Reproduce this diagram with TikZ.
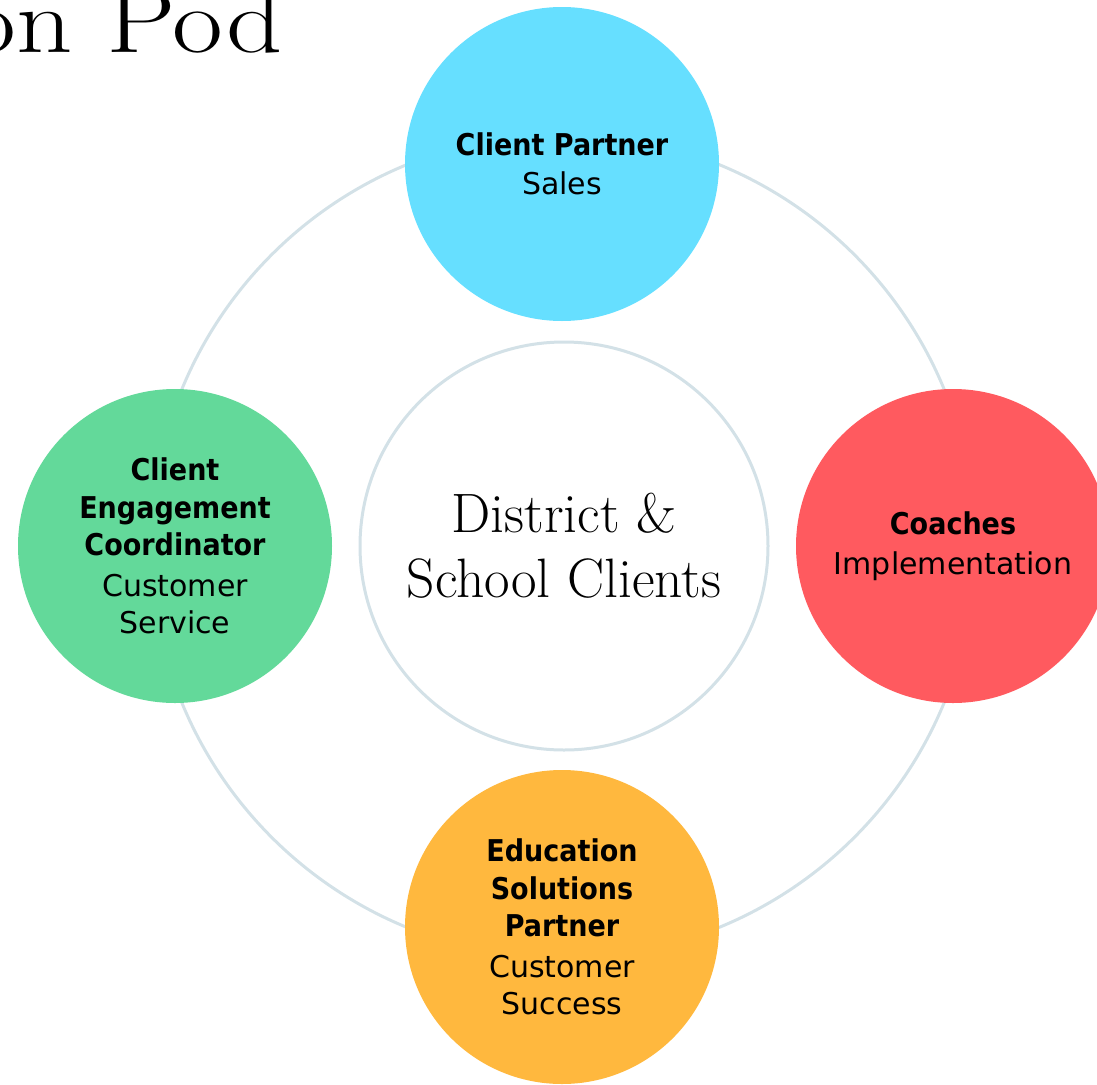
\documentclass[tikz,border=0pt]{standalone}
\usepackage{fontspec}
\newfontfamily\rolefont{DejaVu Sans}
\newfontfamily\rolebold{DejaVu Sans Bold}[FakeStretch=0.9]
\newfontfamily\titlefont{Latin Modern Roman}[FakeStretch=1.2]
\definecolor{ringc}{HTML}{D3E1E7}
\definecolor{cpc}{HTML}{66DFFF}
\definecolor{cec}{HTML}{63D99A}
\definecolor{coc}{HTML}{FF5A5F}
\definecolor{esc}{HTML}{FFB83E}
\tikzset{
  role/.style={circle, minimum size=314pt, inner sep=0pt, align=center,
    font=\rolefont\fontsize{30}{37.5}\selectfont, text=black},
  ring/.style={draw=ringc, line width=3pt},
}
\newcommand{\rb}[1]{{\rolebold #1}}
\begin{document}
\begin{tikzpicture}[x=1pt,y=-1pt]
\useasboundingbox (0,0) rectangle (1097,1084);
% title (cropped by the page edge, as in the reference)
\node[anchor=base east, inner sep=0pt, font=\titlefont\fontsize{92}{92}\selectfont] (title) at (283,52) {on Pod};
% outer ring
\coordinate (c0) at (563,546);
\draw[ring] (c0) circle[radius=412];
% centre
\node[circle, ring, fill=white, minimum size=408pt, inner sep=0pt, align=center,
  font=\fontsize{55.5}{65}\selectfont] (clients) at (564,546) {District \&\\School Clients};
% role circles
\node[role, fill=cpc] (cp) at (562,164) {\rb{Client Partner}\\[2pt]Sales};
\node[role, fill=cec] (ce) at (175,546) {\rb{Client}\\\rb{Engagement}\\\rb{Coordinator}\\[3pt]Customer\\Service};
\node[role, fill=coc] (co) at (953,546) {\rb{Coaches}\\[2pt]Implementation};
\node[role, fill=esc] (es) at (562,927) {\rb{Education}\\\rb{Solutions}\\\rb{Partner}\\[3pt]Customer\\Success};
\end{tikzpicture}
\end{document}
